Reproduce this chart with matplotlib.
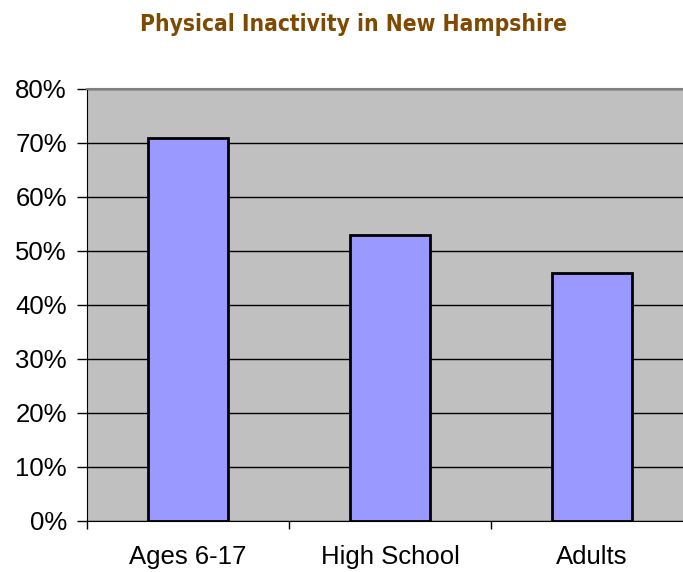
import matplotlib.pyplot as plt

categories = ["Ages 6-17", "High School", "Adults"]
values = [71, 53, 46]
yticks = [0, 10, 20, 30, 40, 50, 60, 70, 80]

fig = plt.figure(figsize=(6.83, 5.72), dpi=100)
ax = fig.add_axes([87/683, 51/572, 606/683, 432/572])
ax.set_facecolor("#C0C0C0")

x = range(len(categories))
ax.bar(x, values, width=0.4, color="#9999FF", edgecolor="black", linewidth=2, zorder=3)

ax.set_xlim(-0.5, 2.5)
ax.set_ylim(0, 80)
ax.set_yticks(yticks)
ax.set_yticklabels([f"{v}%" for v in yticks])
ax.yaxis.grid(True, color="black", linewidth=1, zorder=1)
ax.set_axisbelow(True)

ax.set_xticks([0, 1, 2])
ax.set_xticklabels(categories)
ax.set_xticks([-0.5, 0.5, 1.5, 2.5], minor=True)
ax.tick_params(axis="x", which="major", length=0, pad=17)
ax.tick_params(axis="x", which="minor", length=6, width=1, direction="out")
ax.tick_params(axis="y", length=7, width=1, direction="out", pad=7.5)
for lab in ax.get_xticklabels() + ax.get_yticklabels():
    lab.set_fontfamily("Liberation Sans")
    lab.set_fontsize(18.5)

ax.spines["top"].set_color("#808080")
ax.spines["top"].set_linewidth(1.5)
ax.spines["right"].set_visible(False)
ax.spines["left"].set_color("black")
ax.spines["bottom"].set_color("black")

fig.text(353/683, 1 - 24/572, "Physical Inactivity in New Hampshire",
         ha="center", va="center", fontsize=16.3, fontweight="bold",
         color="#7F4A00", fontfamily="DejaVu Sans", fontstretch="condensed")

fig.savefig("out.png", dpi=100)
